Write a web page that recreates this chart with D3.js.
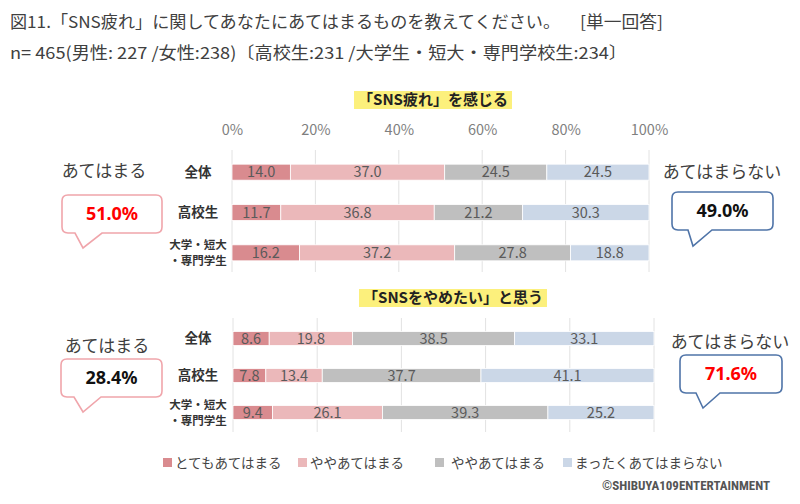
<!DOCTYPE html>
<html><head><meta charset="utf-8">
<script src="https://cdn.jsdelivr.net/npm/d3@7"></script>
<style>
body{margin:0;background:#fff;}
svg{display:block;font-family:"Noto Sans CJK JP","Noto Sans",sans-serif;}
</style></head>
<body>
<svg id="c" width="800" height="504"></svg>
<script>
// ---- data ----
const titleMain = "図11.「SNS疲れ」に関してあなたにあてはまるものを教えてください。";
const titleNote = "[単一回答]";
const subtitle = "n= 465(男性: 227 /女性:238)〔高校生:231 /大学生・短大・専門学校生:234〕";
const categories = ["全体", "高校生", "大学・短大・専門学生"];
const seriesNames = ["とてもあてはまる", "ややあてはまる", "ややあてはまる", "まったくあてはまらない"];
const seriesColors = ["#d98b8f", "#ebb8ba", "#bfbfbf", "#cbd7e7"];
const fatigueValues = [[14.0, 37.0, 24.5, 24.5], [11.7, 36.8, 21.2, 30.3], [16.2, 37.2, 27.8, 18.8]];
const quitValues = [[8.6, 19.8, 38.5, 33.1], [7.8, 13.4, 37.7, 41.1], [9.4, 26.1, 39.3, 25.2]];
const tickValues = [0, 20, 40, 60, 80, 100];
const chartTitles = ["「SNS疲れ」を感じる", "「SNSをやめたい」と思う"];
const calloutLabels = ["あてはまる", "あてはまらない"];
const fatigueCallouts = [51.0, 49.0];
const quitCallouts = [28.4, 71.6];
const credit = "©SHIBUYA109ENTERTAINMENT";

const svg = d3.select("#c");
svg.append("rect").attr("width", 800).attr("height", 504).attr("fill", "#fff");

// titles
svg.append("text").attr("x", 10).attr("y", 22).attr("dy", "0.36em").attr("font-size", 16.5).attr("fill", "#404040")
  .attr("textLength", 550).attr("lengthAdjust", "spacingAndGlyphs").text(titleMain);
svg.append("text").attr("x", 580).attr("y", 22).attr("dy", "0.36em").attr("font-size", 16.5).attr("fill", "#404040")
  .attr("textLength", 83).attr("lengthAdjust", "spacingAndGlyphs").text(titleNote);
svg.append("text").attr("x", 10).attr("y", 53).attr("dy", "0.36em").attr("font-size", 16.5).attr("fill", "#404040")
  .attr("textLength", 617).attr("lengthAdjust", "spacingAndGlyphs").text(subtitle);

function drawChart(cfg) {
  const x = d3.scaleLinear().domain([0, 100]).range([cfg.x0, cfg.x1]);
  const y = d3.scaleBand().domain(categories).range([cfg.yTop, cfg.yBot]).paddingInner(0).paddingOuter(0);
  const g = svg.append("g");
  // title with highlight
  const t = g.append("text").attr("x", cfg.titleX).attr("y", cfg.titleY).attr("text-anchor", "middle")
    .attr("dy", "0.36em").attr("font-size", 15).attr("font-weight", "bold").attr("fill", "#222")
    .text(cfg.title);
  const bb = t.node().getBBox();
  g.insert("rect", "text").attr("x", bb.x - 4).attr("y", cfg.titleY - 9).attr("width", bb.width + 8).attr("height", 18).attr("fill", "#fcf07c");
  // grid
  g.selectAll(".grid").data(tickValues).join("line")
    .attr("x1", d => x(d)).attr("x2", d => x(d)).attr("y1", cfg.gridTop).attr("y2", cfg.gridBot)
    .attr("stroke", "#e2e2e2").attr("stroke-width", 1);
  if (cfg.showTicks) {
    const ax = g.append("g").attr("transform", `translate(0,${cfg.tickY})`)
      .call(d3.axisTop(x).tickValues(tickValues).tickFormat(d => d + "%").tickSize(0).tickPadding(0));
    ax.select(".domain").remove();
    ax.selectAll("text").attr("font-size", 14.5).attr("fill", "#7f7f7f").attr("font-family", "'Noto Sans CJK JP',sans-serif").attr("dy", "0.35em");
  }
  // rows
  cfg.values.forEach((vals, i) => {
    const cat = categories[i];
    const cy = y(cat) + y.bandwidth() / 2;
    let acc = 0;
    const segs = vals.map((v, j) => { const s = { v, j, start: acc }; acc += v; return s; });
    g.selectAll(null).data(segs).join("rect")
      .attr("x", d => x(d.start)).attr("width", d => x(d.start + d.v) - x(d.start))
      .attr("y", cy - cfg.barH / 2).attr("height", cfg.barH)
      .attr("fill", d => seriesColors[d.j]).attr("stroke", "#fff").attr("stroke-width", 0.8);
    g.selectAll(null).data(segs).join("text")
      .attr("x", d => x(d.start + d.v / 2)).attr("y", cy).attr("dy", "0.36em")
      .attr("text-anchor", "middle").attr("font-size", 14.5).attr("fill", "#5a5a5a")
      .text(d => d.v.toFixed(1));
    // category label
    if (cat.length > 4) {
      const lab = g.append("text").attr("text-anchor", "middle").attr("font-size", 11.5).attr("font-weight", "bold").attr("fill", "#333");
      lab.append("tspan").attr("x", cfg.labelX).attr("y", cy - 7.5).attr("dy", "0.35em").text("大学・短大");
      lab.append("tspan").attr("x", cfg.labelX).attr("y", cy + 8).attr("dy", "0.35em").text("・専門学生");
    } else {
      g.append("text").attr("x", cfg.labelX).attr("y", cy).attr("dy", "0.35em").attr("text-anchor", "middle")
        .attr("font-size", 13.5).attr("font-weight", "bold").attr("fill", "#333").text(cat);
    }
  });
}

function bubble(b) {
  const { x, y, w, h } = b, r = 6;
  const tl = x + b.tailL, tr = x + b.tailR, tx = x + b.tailTip, ty = y + h + b.tailH;
  const p = `M${x + r},${y} H${x + w - r} Q${x + w},${y} ${x + w},${y + r} V${y + h - r} Q${x + w},${y + h} ${x + w - r},${y + h}
    H${tr} L${tx},${ty} L${tl},${y + h} H${x + r} Q${x},${y + h} ${x},${y + h - r} V${y + r} Q${x},${y} ${x + r},${y} Z`;
  svg.append("path").attr("d", p).attr("fill", "#fff").attr("stroke", b.stroke).attr("stroke-width", 1.6);
  svg.append("text").attr("x", x + w / 2).attr("y", y + h / 2).attr("dy", "0.36em").attr("text-anchor", "middle")
    .attr("font-size", 18).attr("font-weight", "bold").attr("fill", b.color).attr("font-family", "'Noto Sans',sans-serif")
    .text(b.value.toFixed(1) + "%");
  svg.append("text").attr("x", b.labX).attr("y", b.labY).attr("dy", "0.36em").attr("text-anchor", "middle")
    .attr("font-size", 17).attr("fill", "#404040").text(b.label);
}

drawChart({ values: fatigueValues, title: chartTitles[0], titleX: 433, titleY: 100, x0: 232, x1: 649,
  yTop: 152, yBot: 273, barH: 16, gridTop: 150, gridBot: 272, showTicks: true, tickY: 130, labelX: 198 });
drawChart({ values: quitValues, title: chartTitles[1], titleX: 453, titleY: 298, x0: 233, x1: 654,
  yTop: 320, yBot: 431, barH: 14, gridTop: 318, gridBot: 432, showTicks: false, labelX: 198 });

bubble({ x: 62, y: 195, w: 100, h: 38, tailL: 13, tailR: 40, tailTip: 21, tailH: 15, stroke: "#f0a5ab", color: "#ff0000",
  value: fatigueCallouts[0], label: calloutLabels[0], labX: 104, labY: 171 });
bubble({ x: 672, y: 192, w: 101, h: 38, tailL: 16, tailR: 40, tailTip: 21, tailH: 16, stroke: "#4f74a8", color: "#111",
  value: fatigueCallouts[1], label: calloutLabels[1], labX: 722, labY: 172 });
bubble({ x: 61, y: 359, w: 101, h: 38, tailL: 13, tailR: 40, tailTip: 22, tailH: 15, stroke: "#f0a5ab", color: "#111",
  value: quitCallouts[0], label: calloutLabels[0], labX: 107, labY: 346 });
bubble({ x: 680, y: 355, w: 102, h: 38, tailL: 16, tailR: 40, tailTip: 23, tailH: 15, stroke: "#4f74a8", color: "#ff0000",
  value: quitCallouts[1], label: calloutLabels[1], labX: 730, labY: 342 });

// legend
const legX = [163, 298, 435, 563];
const legTextX = [175, 310, 451, 575];
seriesNames.forEach((n, i) => {
  svg.append("rect").attr("x", legX[i]).attr("y", 458).attr("width", 9).attr("height", 9).attr("fill", seriesColors[i]);
  svg.append("text").attr("x", legTextX[i]).attr("y", 463).attr("dy", "0.36em").attr("font-size", 13.5).attr("fill", "#444").text(n);
});
svg.append("text").attr("x", 770).attr("y", 485).attr("dy", "0.36em").attr("text-anchor", "end").attr("font-size", 13)
  .attr("font-weight", "bold").attr("fill", "#555").attr("font-family", "'Liberation Sans Narrow','Roboto Condensed','Liberation Sans',sans-serif").text(credit);
</script>
</body></html>
